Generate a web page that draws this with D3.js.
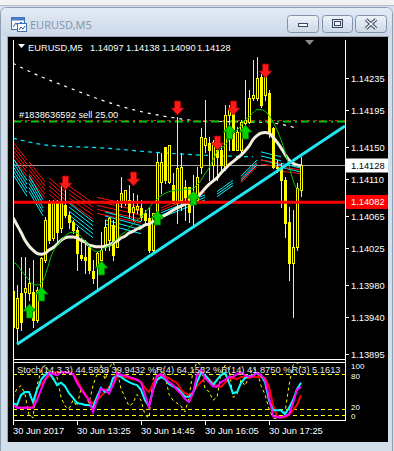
<!DOCTYPE html>
<html><head><meta charset="utf-8">
<script src="https://cdn.jsdelivr.net/npm/d3@7/dist/d3.min.js"></script>
<style>
html,body{margin:0;padding:0;background:#d5e0ec;overflow:hidden;}
svg{display:block;}
</style></head><body>
<script>
// ---------------- data ----------------
const symbol = "EURUSD,M5";
const openP = [1.13972,1.13927,1.13970,1.13971,1.13970,1.13971,1.13937,1.13974,1.14011,1.14081,
1.14038,1.14082,1.14050,1.14079,1.14066,1.14058,1.14048,1.14017,1.14014,1.14027,
1.13997,1.14002,1.14011,1.14027,1.14035,1.14054,1.14027,1.14081,1.14082,1.14085,
1.14070,1.14074,1.14075,1.14069,1.14063,1.14023,1.14064,1.14107,1.14150,1.14107,
1.14103,1.14081,1.14085,1.14101,1.14101,1.14085,1.14085,1.14125,1.14152,1.14155,
1.14128,1.14146,1.14146,1.14125,1.14189,1.14193,1.14146,1.14146,1.14180,1.14181,
1.14210,1.14210,1.14236,1.14214,1.14217,1.14173,1.14125,1.14125,1.14109,1.14058,
1.14007,1.14027,1.14097];
const highP = [1.13988,1.13980,1.14014,1.14014,1.14001,1.14011,1.13978,1.14014,1.14064,1.14085,
1.14085,1.14085,1.14106,1.14102,1.14070,1.14060,1.14051,1.14038,1.14035,1.14029,
1.14011,1.14021,1.14045,1.14060,1.14064,1.14060,1.14085,1.14113,1.14097,1.14103,
1.14093,1.14091,1.14085,1.14072,1.14076,1.14069,1.14143,1.14143,1.14150,1.14152,
1.14118,1.14187,1.14143,1.14109,1.14101,1.14115,1.14125,1.14173,1.14208,1.14162,
1.14159,1.14159,1.14155,1.14202,1.14202,1.14198,1.14175,1.14183,1.14233,1.14220,
1.14257,1.14261,1.14242,1.14245,1.14220,1.14175,1.14134,1.14130,1.14113,1.14076,
1.14072,1.14106,1.14138];
const lowP = [1.13920,1.13908,1.13925,1.13953,1.13961,1.13928,1.13934,1.13970,1.14008,1.14032,
1.14035,1.14033,1.14045,1.14064,1.14050,1.14044,1.13998,1.14011,1.13995,1.13995,
1.13982,1.13974,1.14008,1.14023,1.14023,1.14011,1.14027,1.14076,1.14079,1.14064,
1.14060,1.14069,1.14060,1.14056,1.14021,1.14021,1.14064,1.14093,1.14106,1.14106,
1.14081,1.14056,1.14072,1.14060,1.14058,1.14051,1.14085,1.14118,1.14144,1.14109,
1.14109,1.14109,1.14122,1.14122,1.14146,1.14146,1.14146,1.14143,1.14177,1.14180,
1.14208,1.14208,1.14199,1.14208,1.14162,1.14124,1.14119,1.14076,1.14039,1.13986,
1.13941,1.14023,1.14090];
const closeP = [1.13928,1.13964,1.13934,1.13976,1.13982,1.13937,1.13974,1.14013,1.14060,1.14035,
1.14081,1.14045,1.14081,1.14066,1.14058,1.14048,1.14019,1.14013,1.14011,1.13998,
1.13989,1.14019,1.14023,1.14051,1.14063,1.14017,1.14081,1.14093,1.14097,1.14070,
1.14076,1.14077,1.14064,1.14060,1.14023,1.14069,1.14132,1.14132,1.14109,1.14152,
1.14081,1.14124,1.14125,1.14088,1.14070,1.14091,1.14113,1.14162,1.14161,1.14146,
1.14156,1.14138,1.14128,1.14189,1.14196,1.14146,1.14168,1.14181,1.14183,1.14210,
1.14214,1.14235,1.14202,1.14236,1.14167,1.14125,1.14124,1.14109,1.14056,1.14007,
1.14027,1.14099,1.14128];
const maWhite = [1.14063,1.14054,1.14045,1.14035,1.14028,1.14023,1.14019,1.14018,1.14019,1.14023,
1.14026,1.14030,1.14035,1.14038,1.14039,1.14039,1.14038,1.14035,1.14033,1.14029,
1.14028,1.14027,1.14027,1.14028,1.14029,1.14032,1.14034,1.14038,1.14040,1.14044,
1.14046,1.14049,1.14051,1.14054,1.14055,1.14058,1.14060,1.14063,1.14066,1.14069,
1.14072,1.14075,1.14077,1.14080,1.14082,1.14085,1.14088,1.14093,1.14099,1.14104,
1.14108,1.14112,1.14118,1.14123,1.14128,1.14132,1.14136,1.14140,1.14145,1.14151,
1.14159,1.14164,1.14167,1.14168,1.14167,1.14162,1.14156,1.14149,1.14141,1.14134,
1.14130,1.14128,1.14127];
const maGreen = [1.14008,1.14005,1.13998,1.13992,1.13986,1.13981,1.13980,1.13982,1.13991,1.14007,
1.14021,1.14028,1.14035,1.14040,1.14044,1.14045,1.14044,1.14040,1.14034,1.14028,
1.14023,1.14021,1.14022,1.14026,1.14028,1.14032,1.14037,1.14042,1.14045,1.14050,
1.14055,1.14060,1.14064,1.14069,1.14075,1.14081,1.14086,1.14090,1.14093,1.14095,
1.14096,1.14097,1.14097,1.14098,1.14098,1.14099,1.14103,1.14109,1.14117,1.14124,
1.14134,1.14144,1.14149,1.14152,1.14159,1.14166,1.14171,1.14176,1.14183,1.14187,
1.14192,1.14196,1.14196,1.14194,1.14189,1.14181,1.14171,1.14159,1.14144,1.14127,
1.14109,1.14099,1.14097];
const slowMaIdx = [0,5,14,22,30,39,47,57,64,68,71];
const slowMa = [1.14253,1.14241,1.14223,1.14208,1.14196,1.14187,1.14182,1.14181,1.14180,1.14177,1.14173];
const cyanMaIdx = [0,9,22,34,47,60];
const cyanMa = [1.14161,1.14152,1.14149,1.14144,1.14140,1.14138];
const fanI0 = [0,0,4,4,9,14,14,21,23,37,37,51,57,57,62,62,67,67];
const fanI1 = [3.5,3.5,8,7.5,13,20,20,32,32,48,48,55,61,61,67,67,72,72];
const fanP0 = [1.14156,1.14136,1.14132,1.14115,1.14112,1.14102,1.14081,1.14088,1.14070,1.14075,1.14069,1.14095,1.14114,1.14109,1.14144,1.14134,1.14130,1.14125];
const fanP1 = [1.14134,1.14109,1.14107,1.14085,1.14095,1.14081,1.14058,1.14076,1.14058,1.14097,1.14091,1.14109,1.14134,1.14129,1.14138,1.14130,1.14124,1.14122];
const fanN = [5,5,5,5,5,5,5,5,4,2,3,3,3,2,3,2,2,2];
const fanKind = ["r","c","r","c","r","r","c","r","c","r","c","c","c","r","c","r","c","r"];
const upIdx = [4,7,22,36,45,54,58];
const upPrice = [1.13957,1.13978,1.14010,1.14071,1.14096,1.14177,1.14177];
const downIdx = [13,30,41,51,55,63];
const downPrice = [1.14097,1.14102,1.14189,1.14146,1.14189,1.14235];
const trendIdx = [1,83];
const trendPrice = [1.13907,1.14176];
const bidPrice = 1.14128;
const levelPrice = 1.14082;
const orderPrice = 1.14182;
const orderLabel = "#1838636592 sell 25.00";
const ohlcLast = ["1.14097","1.14138","1.14090","1.14128"];
const priceTicks = [1.14235,1.14195,1.14150,1.14110,1.14065,1.14025,1.13980,1.13940,1.13895];
const timeIdx = [0,16,32,48,64];
const timeLabels = ["30 Jun 2017","30 Jun 13:25","30 Jun 14:45","30 Jun 16:05","30 Jun 17:25"];
const stochRed = [27,23,22,22,22,23,53,63,70,76,82,83,83,83,83,80,70,56,46,35,30,35,42,49,58,61,75,76,75,73,71,70,66,56,49,63,76,78,76,73,68,65,53,47,44,49,59,66,73,71,65,59,58,65,71,73,71,75,75,73,75,75,75,73,59,27,8,5,6,10,18,27,44];
const stochCyan = [30,27,44,49,49,32,53,70,78,82,73,61,65,59,47,39,30,29,27,27,23,41,56,49,53,73,78,75,70,66,63,61,53,35,25,53,70,75,71,63,59,56,49,41,41,47,66,82,78,70,61,70,78,82,65,47,49,65,73,76,78,82,78,66,35,18,18,18,11,22,35,54,65];
const stochMag = [27,22,22,22,22,22,35,53,70,82,80,78,83,83,82,80,65,54,44,35,15,35,54,53,46,61,82,78,78,75,73,70,66,44,23,53,77,80,73,66,61,53,46,37,32,47,78,87,73,66,59,58,66,70,75,75,80,82,78,75,77,82,78,70,41,8,6,6,8,11,30,53,58];
const stochYel = [40,55,60,45,10,5,60,85,95,85,70,75,40,25,20,35,25,55,45,30,60,80,95,70,90,100,85,55,40,25,30,45,35,10,5,70,90,85,80,45,35,30,25,15,40,85,100,95,55,50,35,40,80,95,90,40,45,70,60,75,90,85,60,45,20,5,3,8,15,60,95,100,90];
const stochLevels = [80,20,10];
const stochLabels = ["100","80","20","0"];
const stochLabelVals = [100,80,20,0];
const stochText = "Stoch(14,3,3) 44.5838 39.9432  %R(4) 64.1532  %R(14) 41.8750  %R(3) 5.1613";

// ---------------- drawing ----------------
const FONT = '"Liberation Sans", Arial, sans-serif';
const FS = 9.3;
const svg = d3.select("body").append("svg").attr("width",394).attr("height",451);
const defs = svg.append("defs");
const tg = defs.append("linearGradient").attr("id","tg").attr("x1",0).attr("y1",0).attr("x2",0).attr("y2",1);
tg.append("stop").attr("offset","0").attr("stop-color","#e3ebf5");
tg.append("stop").attr("offset","1").attr("stop-color","#cbd8e8");
const bgr = defs.append("linearGradient").attr("id","btn").attr("x1",0).attr("y1",0).attr("x2",0).attr("y2",1);
bgr.append("stop").attr("offset","0").attr("stop-color","#eef3f9");
bgr.append("stop").attr("offset","1").attr("stop-color","#cad7e6");
defs.append("clipPath").attr("id","cm").append("rect").attr("x",13).attr("y",40).attr("width",332).attr("height",319);
defs.append("clipPath").attr("id","cs").append("rect").attr("x",14).attr("y",363).attr("width",331).attr("height",57);

// window chrome
svg.append("rect").attr("width",394).attr("height",451).attr("fill","#d5e0ec");
svg.append("rect").attr("width",394).attr("height",5).attr("fill","#f3f3f3");
svg.append("line").attr("x1",0).attr("x2",394).attr("y1",5.5).attr("y2",5.5).attr("stroke","#b3bcc8");
svg.append("rect").attr("x",0.5).attr("y",7.5).attr("width",392).attr("height",450).attr("rx",6)
  .attr("fill","#d3deeb").attr("stroke","#8f9db0");
svg.append("rect").attr("x",1).attr("y",8).attr("width",391).attr("height",29).attr("rx",5).attr("fill","url(#tg)");
// icon
const ic = svg.append("g");
ic.append("rect").attr("x",11.5).attr("y",17.5).attr("width",13).attr("height",12).attr("fill","#ffffff").attr("stroke","#3f6fb5");
ic.append("rect").attr("x",11.5).attr("y",17.5).attr("width",13).attr("height",3).attr("fill","#4a80c8");
ic.append("polyline").attr("points","13,27 16,23 18,26 21,22 24,25").attr("fill","none").attr("stroke","#2a5aa8").attr("stroke-width",1);
ic.append("rect").attr("x",17.5).attr("y",23.5).attr("width",9).attr("height",8).attr("fill","#ffffff").attr("stroke","#3f6fb5");
ic.append("polyline").attr("points","19,30 21,27 23,29 25,26").attr("fill","none").attr("stroke","#2a5aa8");
svg.append("text").attr("x",30).attr("y",29).attr("font-family",'"Noto Sans", sans-serif').attr("font-size",11)
  .attr("fill","#8797ac").text(symbol);
// buttons
const btns = [[287.5,31],[322.5,30],[355.5,31]];
btns.forEach(b=>{
  svg.append("rect").attr("x",b[0]).attr("y",15.5).attr("width",b[1]).attr("height",17).attr("rx",3)
    .attr("fill","url(#btn)").attr("stroke","#8393a9");
});
svg.append("rect").attr("x",298.5).attr("y",23.5).attr("width",9).attr("height",3).attr("fill","#f2f5f9").attr("stroke","#394860");
svg.append("rect").attr("x",332.5).attr("y",19.5).attr("width",10).attr("height",8).attr("fill","none").attr("stroke","#394860");
svg.append("rect").attr("x",334.5).attr("y",21.5).attr("width",6).attr("height",4).attr("fill","#f2f5f9").attr("stroke","#394860");
[["366","19.5","376","28.5"],["376","19.5","366","28.5"]].forEach(p=>{
  svg.append("line").attr("x1",p[0]).attr("y1",p[1]).attr("x2",p[2]).attr("y2",p[3]).attr("stroke","#394860").attr("stroke-width",3.6);
});
[["366","19.5","376","28.5"],["376","19.5","366","28.5"]].forEach(p=>{
  svg.append("line").attr("x1",p[0]).attr("y1",p[1]).attr("x2",p[2]).attr("y2",p[3]).attr("stroke","#f4f7fb").attr("stroke-width",1.4);
});
// client area
svg.append("rect").attr("x",8).attr("y",37).attr("width",380).attr("height",405).attr("fill","#000");
svg.append("line").attr("x1",7.5).attr("x2",7.5).attr("y1",37).attr("y2",442).attr("stroke","#98a4b4");
svg.append("line").attr("x1",7).attr("x2",389).attr("y1",36.5).attr("y2",36.5).attr("stroke","#98a4b4");

// scales
const x = d3.scaleLinear().domain([0,83]).range([13,345]);
const y = d3.scaleLinear().domain([1.13895,1.14235]).range([354,78]);
const ys = d3.scaleLinear().domain([0,100]).range([420.7,362.3]);

const plot = svg.append("g").attr("clip-path","url(#cm)");

// slow white dotted MA
plot.append("path").datum(slowMaIdx.map((d,i)=>[d,slowMa[i]]))
  .attr("d", d3.line().x(d=>x(d[0])).y(d=>y(d[1])).curve(d3.curveMonotoneX))
  .attr("fill","none").attr("stroke","#ffffff").attr("stroke-width",1.2).attr("stroke-dasharray","3,5");
// cyan dashed MA
plot.append("path").datum(cyanMaIdx.map((d,i)=>[d,cyanMa[i]]))
  .attr("d", d3.line().x(d=>x(d[0])).y(d=>y(d[1])).curve(d3.curveMonotoneX))
  .attr("fill","none").attr("stroke","#00e6ff").attr("stroke-width",1.2).attr("stroke-dasharray","4,4");
// order line (green dash-dot with red edge)
const oy = Math.round(y(orderPrice));
plot.append("line").attr("x1",13).attr("x2",345).attr("y1",oy+0.5).attr("y2",oy+0.5)
  .attr("stroke","#00c800").attr("stroke-width",2).attr("stroke-dasharray","8,4,2,4");
plot.append("line").attr("x1",13).attr("x2",345).attr("y1",oy-0.5).attr("y2",oy-0.5)
  .attr("stroke","#e02020").attr("stroke-width",1).attr("stroke-dasharray","3,5,2,4");
// bid line
const by = Math.round(y(bidPrice))+0.5;
plot.append("line").attr("x1",13).attr("x2",345).attr("y1",by).attr("y2",by).attr("stroke","#a0a0a0");

// fans
fanI0.forEach((i0,g)=>{
  const n = fanN[g];
  const gap = fanP1[g] > fanP0[g] ? 2.5 : 4;
  for(let k=0;k<n;k++){
    plot.append("line")
      .attr("x1",x(i0)).attr("y1",y(fanP0[g])+k*gap)
      .attr("x2",x(fanI1[g])).attr("y2",y(fanP1[g])+k*gap)
      .attr("stroke", fanKind[g]==="r" ? "#ff1010" : "#00f0ff").attr("stroke-width",1);
  }
});

// candles
const cg = plot.append("g");
openP.forEach((o,i)=>{
  const c = closeP[i], cx = Math.round(x(i));
  cg.append("line").attr("x1",cx+0.5).attr("x2",cx+0.5)
    .attr("y1",Math.round(y(highP[i]))).attr("y2",Math.round(y(lowP[i]))+1)
    .attr("stroke","#ffff00");
  const t = Math.round(y(Math.max(o,c))), b = Math.round(y(Math.min(o,c)));
  cg.append("rect").attr("x",cx-0.5).attr("y",t+0.5).attr("width",2).attr("height",Math.max(b-t,1))
    .attr("fill", c>=o ? "#000" : "#ffff00").attr("stroke","#ffff00").attr("stroke-width",1);
});

// moving averages
plot.append("path").datum(maWhite).attr("d", d3.line().x((d,i)=>x(i)).y(d=>y(d)).curve(d3.curveMonotoneX))
  .attr("fill","none").attr("stroke","#f4eedc").attr("stroke-width",3);
plot.append("path").datum(maGreen).attr("d", d3.line().x((d,i)=>x(i)).y(d=>y(d)).curve(d3.curveMonotoneX))
  .attr("fill","none").attr("stroke","#00c800").attr("stroke-width",1);

// horizontal red level
plot.append("line").attr("x1",13).attr("x2",345).attr("y1",y(levelPrice)).attr("y2",y(levelPrice))
  .attr("stroke","#ff0000").attr("stroke-width",3);
// trendline
plot.append("line").attr("x1",x(trendIdx[0])).attr("y1",y(trendPrice[0]))
  .attr("x2",x(trendIdx[1])).attr("y2",y(trendPrice[1]))
  .attr("stroke","#22e6f2").attr("stroke-width",3);

// arrows
const downPath = "M0,0 L-6.5,-7 L-3,-7 L-3,-14 L3,-14 L3,-7 L6.5,-7 Z";
downIdx.forEach((d,i)=>{
  plot.append("path").attr("d",downPath)
    .attr("transform",`translate(${Math.round(x(d))+0.5},${Math.round(y(downPrice[i]))})`)
    .attr("fill","#ff1a1a").attr("stroke","#a00000").attr("stroke-width",0.8);
});
upIdx.forEach((d,i)=>{
  plot.append("path").attr("d",downPath)
    .attr("transform",`translate(${Math.round(x(d))+0.5},${Math.round(y(upPrice[i]))}) scale(1,-1)`)
    .attr("fill","#00d400").attr("stroke","#007a00").attr("stroke-width",0.8);
});

// order label
svg.append("text").attr("x",19).attr("y",118).attr("font-family",FONT).attr("font-size",FS)
  .attr("fill","#ffffff").text(orderLabel);

// header
svg.append("path").attr("d","M18,44 L25,44 L21.5,48 Z").attr("fill","#ffffff");
svg.append("text").attr("x",28).attr("y",50.5).attr("font-family",FONT).attr("font-size",FS).attr("fill","#fff").text(symbol);
const hx = [90,126,162,197];
ohlcLast.forEach((s,i)=>{
  svg.append("text").attr("x",hx[i]).attr("y",50.5).attr("font-family",FONT).attr("font-size",FS).attr("fill","#fff").text(s);
});
// shift marker
svg.append("path").attr("d","M305,40 L314,40 L309.5,45 Z").attr("fill","#8a8a8a");

// frames
const fr = svg.append("g").attr("stroke","#ffffff").attr("stroke-width",1);
fr.append("line").attr("x1",13.5).attr("x2",13.5).attr("y1",40).attr("y2",421);
fr.append("line").attr("x1",345.5).attr("x2",345.5).attr("y1",40).attr("y2",421);
fr.append("line").attr("x1",13).attr("x2",346).attr("y1",359.5).attr("y2",359.5);
fr.append("line").attr("x1",13).attr("x2",346).attr("y1",362.5).attr("y2",362.5);
fr.append("line").attr("x1",13).attr("x2",346).attr("y1",420.5).attr("y2",420.5);

// price axis
priceTicks.forEach(p=>{
  const yy = Math.round(y(p))+0.5;
  svg.append("line").attr("x1",346).attr("x2",349).attr("y1",yy).attr("y2",yy).attr("stroke","#fff");
  svg.append("text").attr("x",351).attr("y",yy).attr("dy","0.35em").attr("font-family",FONT).attr("font-size",FS)
    .attr("fill","#fff").text(p.toFixed(5));
});
// bid label box
svg.append("rect").attr("x",346).attr("y",Math.round(y(bidPrice))-6.5).attr("width",42).attr("height",14).attr("fill","#ffffff");
svg.append("text").attr("x",351).attr("y",Math.round(y(bidPrice))+0.5).attr("dy","0.35em").attr("font-family",FONT).attr("font-size",FS)
  .attr("fill","#000").text(bidPrice.toFixed(5));
svg.append("rect").attr("x",346).attr("y",Math.round(y(levelPrice))-7).attr("width",42).attr("height",14).attr("fill","#ff0000");
svg.append("text").attr("x",351).attr("y",Math.round(y(levelPrice))).attr("dy","0.35em").attr("font-family",FONT).attr("font-size",FS)
  .attr("fill","#fff").text(levelPrice.toFixed(5));

// sub window (stochastic)
const sub = svg.append("g").attr("clip-path","url(#cs)");
stochLevels.forEach(v=>{
  sub.append("line").attr("x1",13).attr("x2",345).attr("y1",Math.round(ys(v))+0.5).attr("y2",Math.round(ys(v))+0.5)
    .attr("stroke","#ffff00").attr("stroke-dasharray","4,3");
});
const sl = d3.line().x((d,i)=>x(i)).y(d=>ys(d));
sub.append("path").datum(stochYel).attr("d",sl).attr("fill","none").attr("stroke","#ffff00").attr("stroke-width",1).attr("stroke-dasharray","3,3");
sub.append("path").datum(stochRed).attr("d",sl).attr("fill","none").attr("stroke","#ff0000").attr("stroke-width",2);
sub.append("path").datum(stochCyan).attr("d",sl).attr("fill","none").attr("stroke","#00ffff").attr("stroke-width",2);
sub.append("path").datum(stochMag).attr("d",sl).attr("fill","none").attr("stroke","#ff00ff").attr("stroke-width",2);
sub.append("text").attr("x",17).attr("y",373).attr("font-family",FONT).attr("font-size",FS).attr("fill","#e6e6e6").text(stochText);
// scale labels of the sub window (kept apart so they do not collide)
const stochLabelY = [366.5, 376, 407.5, 416.5];
stochLabels.forEach((s,i)=>{
  svg.append("text").attr("x",351).attr("y",stochLabelY[i]).attr("dy","0.35em").attr("font-family",FONT).attr("font-size",8)
    .attr("fill","#fff").text(s);
});

// time axis
timeIdx.forEach((t,i)=>{
  const xx = Math.round(x(t))+0.5;
  svg.append("line").attr("x1",xx).attr("x2",xx).attr("y1",421).attr("y2",425).attr("stroke","#fff");
  svg.append("text").attr("x",xx-0.5).attr("y",434).attr("font-family",FONT).attr("font-size",FS)
    .attr("fill","#fff").text(timeLabels[i]);
});
</script>
</body></html>
